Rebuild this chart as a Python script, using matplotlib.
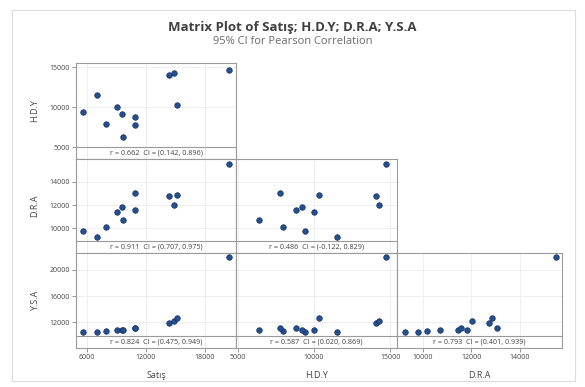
import matplotlib.pyplot as plt
from matplotlib.patches import Rectangle

satis = [5600, 7000, 7900, 9100, 9600, 9700, 10900, 10900, 14300, 14800, 15200, 20400]
hdy = [9400, 11500, 7950, 10000, 9200, 6350, 8800, 7750, 14050, 14250, 10350, 14700]
dra = [9810, 9270, 10150, 11430, 11815, 10690, 11550, 13060, 12740, 12030, 12825, 15470]
ysa = [10530, 10470, 10670, 10810, 10820, 10820, 11080, 11150, 11850, 12150, 12700, 21940]

names = ["Satış", "H.D.Y", "D.R.A", "Y.S.A"]
ticks = {
    "Satış": [6000, 12000, 18000],
    "H.D.Y": [5000, 10000, 15000],
    "D.R.A": [10000, 12000, 14000],
    "Y.S.A": [12000, 16000, 20000],
}
corr_text = {
    ("H.D.Y", "Satış"): "r = 0.662  CI = (0.142, 0.896)",
    ("D.R.A", "Satış"): "r = 0.911  CI = (0.707, 0.975)",
    ("D.R.A", "H.D.Y"): "r = 0.486  CI = (-0.122, 0.829)",
    ("Y.S.A", "Satış"): "r = 0.824  CI = (0.475, 0.949)",
    ("Y.S.A", "H.D.Y"): "r = 0.587  CI = (0.020, 0.869)",
    ("Y.S.A", "D.R.A"): "r = 0.793  CI = (0.401, 0.939)",
}

data = {"Satış": satis, "H.D.Y": hdy, "D.R.A": dra, "Y.S.A": ysa}

# axis ranges (y ranges leave room for the correlation band at the bottom)
xlims = {"Satış": (4880, 21150), "H.D.Y": (4870, 15450), "D.R.A": (8930, 15730)}
ylims = {"H.D.Y": (3540, 15540), "D.R.A": (7890, 15940), "Y.S.A": (8070, 22600)}

W, H = 585, 387
fig = plt.figure(figsize=(W / 100, H / 100), dpi=100)
plt.rcParams["font.family"] = ["Open Sans", "DejaVu Sans"]

# light outer frame of the graph
fig.patches.append(Rectangle((12 / W, 1 - 381 / H), 563 / W, 371 / H,
                             transform=fig.transFigure, fill=False,
                             edgecolor="#dcdcdc", linewidth=0.8))

col_edges = [76, 236, 397, 562]
row_edges = [63, 159, 253, 348]
band = 0.125
grid_col = "#ececec"
frame_col = "#9a9a9a"

rows = names[1:]
cols = names[:3]
for i, rname in enumerate(rows):
    for j, cname in enumerate(cols):
        if j > i:
            continue
        x0, x1 = col_edges[j], col_edges[j + 1]
        y0, y1 = row_edges[i], row_edges[i + 1]
        ax = fig.add_axes([x0 / W, 1 - y1 / H, (x1 - x0) / W, (y1 - y0) / H])
        ax.set_xlim(xlims[cname])
        ax.set_ylim(ylims[rname])
        ax.set_xticks(ticks[cname])
        ax.set_yticks(ticks[rname])
        ax.grid(True, color=grid_col, linewidth=0.6)
        ax.set_axisbelow(True)
        ax.scatter(data[cname], data[rname], s=16, color="#254f91",
                   edgecolor="#17305c", linewidth=0.5, zorder=3, clip_on=False)

        # correlation band
        ax.plot([0, 1], [band, band], transform=ax.transAxes,
                color=frame_col, linewidth=0.8, zorder=2)
        ax.text(0.5, band / 2, corr_text[(rname, cname)], transform=ax.transAxes,
                ha="center", va="center", fontsize=5.2, color="#444444")

        for s in ax.spines.values():
            s.set_color(frame_col)
            s.set_linewidth(0.8)
        ax.tick_params(length=3, width=0.6, color="#888888",
                       labelsize=5, labelcolor="#444444", pad=1.5)
        if j == 0:
            ax.set_ylabel(rname, fontsize=6.5, color="#444444", labelpad=7)
        else:
            ax.tick_params(axis="y", left=False, labelleft=False)
        if i == len(rows) - 1:
            ax.set_xlabel(cname, fontsize=6.5, color="#444444", labelpad=7)
        else:
            ax.tick_params(axis="x", bottom=False, labelbottom=False)

fig.text(0.5, 1 - 27 / H, "Matrix Plot of Satış; H.D.Y; D.R.A; Y.S.A",
         ha="center", va="center", fontsize=9.5, fontweight="bold", color="#404040")
fig.text(0.5, 1 - 42 / H, "95% CI for Pearson Correlation",
         ha="center", va="center", fontsize=8, color="#6a6a6a")

plt.savefig("out.png", dpi=100)
